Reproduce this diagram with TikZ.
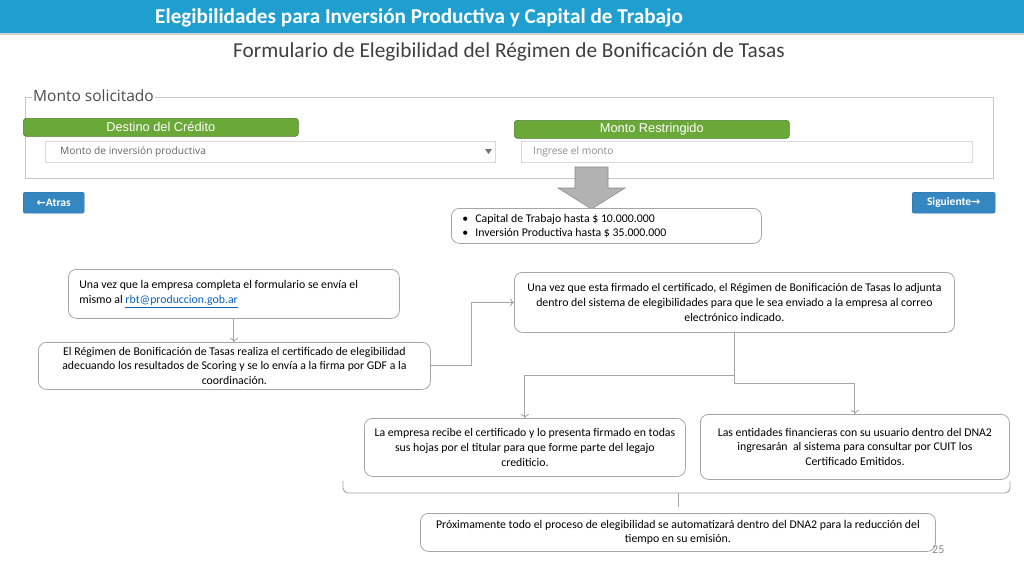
\documentclass[tikz,border=0pt]{standalone}
\usepackage{fontspec}
\setmainfont{Carlito}
\newfontfamily\carl{Carlito}
\newfontfamily\osans{Open Sans}
\newfontfamily\lsans{Liberation Sans}
\newfontfamily\dejav{DejaVu Sans}
\usetikzlibrary{arrows.meta}
\definecolor{titlebar}{HTML}{1F9FD0}
\definecolor{bordergray}{HTML}{A6A6A6}
\definecolor{conngray}{HTML}{A6A6A6}
\definecolor{greenfill}{HTML}{6AA838}
\definecolor{greenline}{HTML}{4E7F2E}
\definecolor{btnblue}{HTML}{3587C2}
\definecolor{formgray}{HTML}{C8C8C8}
\definecolor{linkblue}{HTML}{0563C1}
\tikzset{
  x=1pt, y=-1pt,
  flowbox/.style={draw=bordergray, line width=0.8pt, rounded corners=8pt, fill=white,
    inner sep=0pt, align=center, font=\carl\fontsize{11.8}{14.6}\selectfont, anchor=north west},
  greenlabel/.style={draw=greenline, fill=greenfill, rounded corners=3pt, line width=0.6pt,
    text=white, font=\lsans\fontsize{12.8}{14}\selectfont, anchor=north west, inner sep=0pt},
  field/.style={draw=formgray!70, line width=0.6pt, fill=white, anchor=north west, inner sep=0pt},
  fieldtext/.style={text=black!60, font=\osans\fontsize{10.2}{12}\selectfont, anchor=west, inner sep=0pt},
  btn/.style={fill=btnblue, draw=btnblue!80!black, line width=0.4pt, rounded corners=2pt, text=white,
    font=\carl\bfseries\fontsize{11.5}{12}\selectfont, anchor=north west, inner sep=0pt},
  conn/.style={draw=conngray, line width=0.9pt},
  arr/.style={conn, -{To[length=4pt,width=8pt]}},
}
\begin{document}
\begin{tikzpicture}
\useasboundingbox (0,0) rectangle (1024,576);
\fill[white] (0,0) rectangle (1024,576);
% title bar
\fill[titlebar] (0,0) rectangle (1024,33);
\fill[black!18] (0,33) rectangle (1024,35);
\node[anchor=west, text=white, font=\carl\bfseries\fontsize{21.2}{24}\selectfont, inner sep=0pt] (title) at (155,17.5)
  {Elegibilidades para Inversión Productiva y Capital de Trabajo};
\node[anchor=west, text=black!75, font=\carl\fontsize{21.3}{24}\selectfont, inner sep=0pt] (subtitle) at (233,52)
  {Formulario de Elegibilidad del Régimen de Bonificación de Tasas};
% form frame
\draw[formgray, line width=1pt] (25,97) rectangle (993,178);
\node[anchor=west, fill=white, inner sep=1pt, text=black!70, font=\osans\fontsize{15.5}{17}\selectfont] (legend) at (32,96)
  {Monto solicitado};
\node[greenlabel, minimum width=275pt, minimum height=18pt] (destino) at (23,118) {Destino del Crédito};
\node[greenlabel, minimum width=275pt, minimum height=18pt] (restr) at (514,120) {Monto Restringido};
\node[field, minimum width=450pt, minimum height=21pt] (drop) at (45,141) {};
\node[fieldtext] (droptxt) at (60,151.5) {Monto de inversión productiva};
\fill[black!55] (485,149) -- (492,149) -- (488.5,154) -- cycle;
\node[field, minimum width=451pt, minimum height=21pt] (inp) at (521,141) {};
\node[fieldtext, text=black!45] (inptxt) at (533,151.5) {Ingrese el monto};
% big gray arrow
\filldraw[fill=black!30, draw=black!45, line width=0.6pt]
  (575,167) -- (608,167) -- (608,188) -- (625,188) -- (591.5,209) -- (558,188) -- (575,188) -- cycle;
% buttons
\node[btn, minimum width=61pt, minimum height=21pt] (atras) at (23,192) {{\dejav\bfseries\fontsize{11}{12}\selectfont ←}Atras};
\node[btn, minimum width=83pt, minimum height=21pt] (sig) at (912,192) {Siguiente{\dejav\bfseries\fontsize{11}{12}\selectfont →}};
% bullet box
\node[flowbox, minimum width=310pt, minimum height=35pt, text width=288pt, align=flush left] (bul) at (451,208)
  {\makebox[13pt][l]{•}Capital de Trabajo hasta \$ 10.000.000\\
   \makebox[13pt][l]{•}Inversión Productiva hasta \$ 35.000.000};
% flow boxes
\node[flowbox, minimum width=331pt, minimum height=49pt, text width=309pt, align=flush left] (A) at (68,269)
  {Una vez que la empresa completa el formulario se envía el\\
   mismo al {\color{linkblue}\underline{rbt@produccion.gob.ar}}};
\node[flowbox, minimum width=392pt, minimum height=47pt] (B) at (38,342)
  {El Régimen de Bonificación de Tasas realiza el certificado de elegibilidad\\
   adecuando los resultados de Scoring y se lo envía a la firma por GDF a la\\
   coordinación.};
\node[flowbox, minimum width=440pt, minimum height=60pt] (C) at (514,272)
  {Una vez que esta firmado el certificado, el Régimen de Bonificación de Tasas lo adjunta\\
   dentro del sistema de elegibilidades para que le sea enviado a la empresa al correo\\
   electrónico indicado.};
\node[flowbox, minimum width=321pt, minimum height=58pt] (D) at (364,418)
  {La empresa recibe el certificado y lo presenta firmado en todas\\
   sus hojas por el titular para que forme parte del legajo\\
   crediticio.};
\node[flowbox, minimum width=309pt, minimum height=65pt] (E) at (700,414)
  {Las entidades financieras con su usuario dentro del DNA2\\
   ingresarán\ \ al sistema para consultar por CUIT los\\
   Certificado Emitidos.};
\node[flowbox, minimum width=515pt, minimum height=38pt] (F) at (420,513)
  {Próximamente todo el proceso de elegibilidad se automatizará dentro del DNA2 para la reducción del\\
   tiempo en su emisión.};
\node[anchor=west, inner sep=0pt, text=black!45, font=\carl\fontsize{12}{13}\selectfont] (pg) at (932,550) {25};
% connectors
\draw[arr] (A.south) -- (A.south |- B.north);
\draw[arr] (B.east) -- ++(41,0) |- (C.west);
\draw[arr] (C.south) -- ++(0,43) -| (D.north);
\draw[arr] (C.south) -- ++(0,51) -| (E.north);
% brace
\coordinate (brl) at (343,481);
\coordinate (brr) at (1010,481);
\coordinate (brm) at (678,507);
\draw[conn, rounded corners=5pt] (brl) -- (343,493) -- (1010,493) -- (brr);
\draw[conn] (678,493) -- (brm);
\end{tikzpicture}
\end{document}
